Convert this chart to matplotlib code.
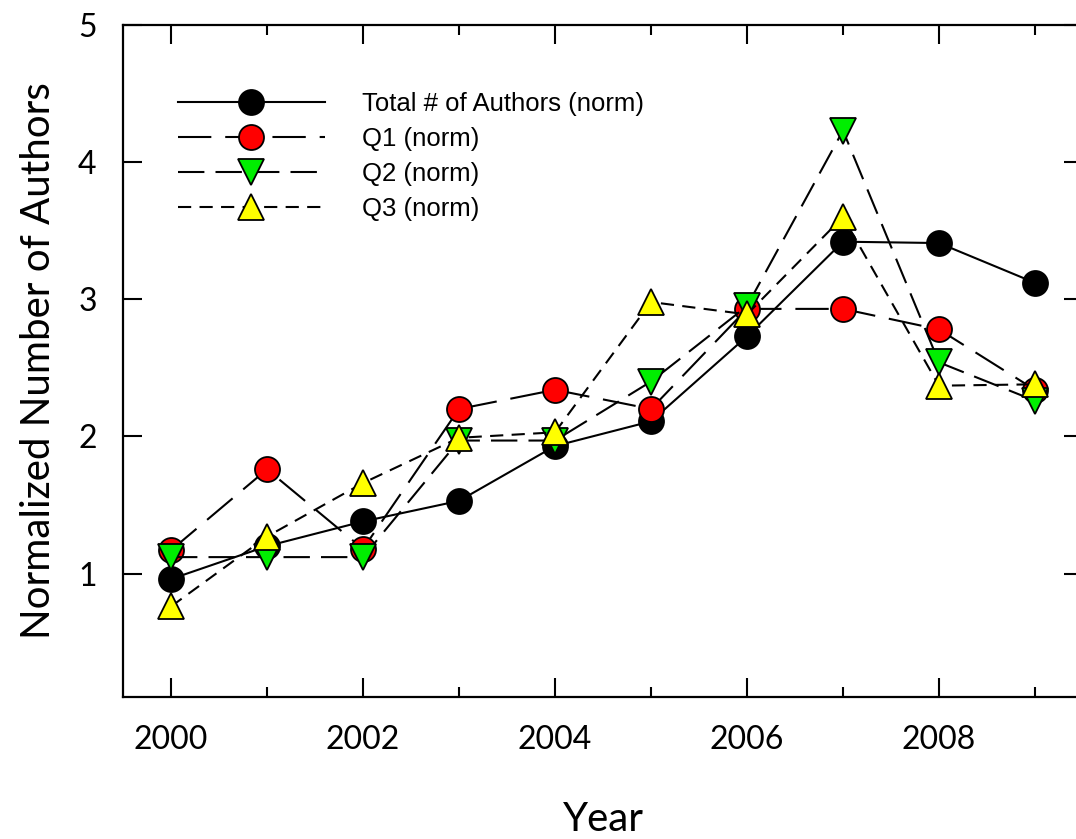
import matplotlib
matplotlib.use("Agg")
import matplotlib.pyplot as plt
from matplotlib.ticker import MultipleLocator

plt.rcParams['lines.scale_dashes'] = False

years = [2000, 2001, 2002, 2003, 2004, 2005, 2006, 2007, 2008, 2009]
total = [0.96, 1.20, 1.38, 1.53, 1.93, 2.11, 2.73, 3.42, 3.41, 3.12]
q1 = [1.17, 1.76, 1.18, 2.20, 2.34, 2.20, 2.93, 2.93, 2.78, 2.34]
q2 = [1.12, 1.12, 1.12, 1.97, 1.97, 2.40, 2.95, 4.23, 2.54, 2.26]
q3 = [0.76, 1.27, 1.66, 1.99, 2.03, 2.98, 2.89, 3.60, 2.37, 2.38]

labels = ["Total # of Authors (norm)", "Q1 (norm)", "Q2 (norm)", "Q3 (norm)"]

W, H = 1076, 839
fig = plt.figure(figsize=(W / 100, H / 100), dpi=100)
ax = fig.add_axes([123 / W, 1 - 697 / H, (1083 - 123) / W, (697 - 25) / H])

lw = 1.5
mew = 1.3
ax.plot(years, total, color='black', lw=lw, marker='o', ms=18,
        mfc='black', mec='black', mew=mew, label=labels[0])
ax.plot(years, q1, color='black', lw=lw, dashes=(24, 10), marker='o', ms=18,
        mfc='#ff0000', mec='black', mew=mew, label=labels[1])
ax.plot(years, q2, color='black', lw=lw, dashes=(19, 8), marker='v', ms=19,
        mfc='#00ee00', mec='black', mew=mew, label=labels[2])
ax.plot(years, q3, color='black', lw=lw, dashes=(9.5, 6), marker='^', ms=19,
        mfc='#ffff00', mec='black', mew=mew, label=labels[3])

ax.set_xlim(1999.5, 2009.5)
ax.set_ylim(0.1, 5)
ax.xaxis.set_major_locator(MultipleLocator(2))
ax.xaxis.set_minor_locator(MultipleLocator(1))
ax.set_yticks([1, 2, 3, 4, 5])
ax.set_yticklabels(['1', '2', '3', '4', '5'])

for s in ax.spines.values():
    s.set_linewidth(1.6)
ax.tick_params(which='major', direction='in', length=14, width=1.5,
               top=True, right=True)
ax.tick_params(which='minor', direction='in', length=7, width=1.5,
               top=True, right=True)
ax.tick_params(axis='x', which='major', labelsize=23, pad=20)
ax.tick_params(axis='y', which='major', labelsize=23, pad=19)
for t in ax.get_xticklabels() + ax.get_yticklabels():
    t.set_family('Lato')

ax.set_xlabel('Year', fontsize=29, family='Lato', labelpad=33)
ax.set_ylabel('Normalized Number of Authors', fontsize=29, family='Lato', labelpad=15)

leg = ax.legend(loc='upper left', bbox_to_anchor=(178 / W, 1 - 92 / H),
                bbox_transform=fig.transFigure, frameon=False,
                prop={'family': 'Liberation Sans', 'size': 18.5},
                handlelength=5.72, handletextpad=1.44, labelspacing=0.43,
                borderpad=0, borderaxespad=0, numpoints=1)

fig.savefig('out.png', dpi=100)
